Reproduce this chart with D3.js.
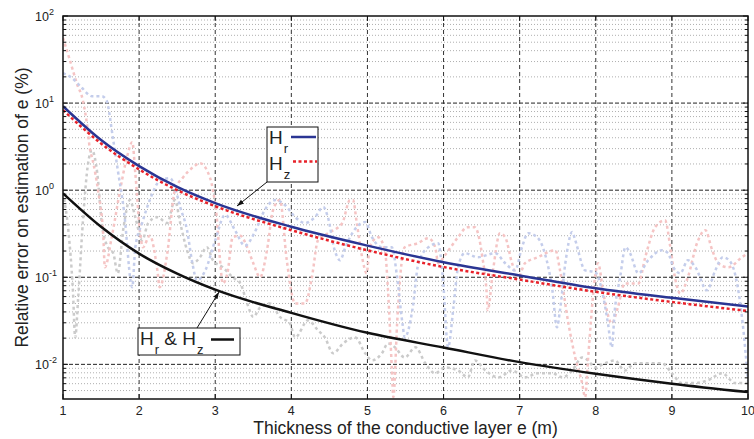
<!DOCTYPE html>
<html>
<head>
<meta charset="utf-8">
<script src="https://cdn.jsdelivr.net/npm/d3@7"></script>
<style>
  body { margin: 0; background: #fff; }
  svg { display: block; font-family: "Liberation Sans", Arial, Helvetica, sans-serif; }
</style>
</head>
<body>
<svg id="chart" width="754" height="439"></svg>
<script>
// smooth error curves
const thickness = [1, 1.5, 2, 2.5, 3, 4, 5, 6, 7, 8, 9, 10];
const errHr   = [9.2, 3.76, 1.89, 1.09, 0.71, 0.38, 0.231, 0.149, 0.105, 0.075, 0.058, 0.046];
const errHz   = [8.3, 3.44, 1.73, 1.0, 0.655, 0.347, 0.204, 0.131, 0.094, 0.068, 0.052, 0.041];
const errHrHz = [0.92, 0.38, 0.187, 0.11, 0.072, 0.039, 0.023, 0.0156, 0.0106, 0.0078, 0.006, 0.0048];

// faint noisy curves [thickness, error]
const noisyHr = [[1.00,22.1],[1.12,19.4],[1.25,14.9],[1.38,12.0],[1.51,12.0],[1.57,10.8],[1.66,3.76],[1.72,1.70],[1.80,0.59],[1.91,0.077],
  [1.95,0.221],[2.04,0.42],[2.14,0.77],[2.28,1.30],[2.41,1.37],[2.47,1.08],[2.54,0.64],[2.63,0.347],[2.70,0.145],[2.76,0.092],
  [2.87,0.120],[3.00,0.266],[3.13,0.52],[3.26,0.347],[3.39,0.23],[3.52,0.33],[3.65,0.59],[3.79,0.77],[3.92,0.67],[4.05,0.49],
  [4.18,0.42],[4.31,0.49],[4.42,0.64],[4.48,0.49],[4.57,0.204],[4.64,0.157],[4.71,0.221],[4.80,0.32],[4.97,0.43],[5.06,0.288],
  [5.19,0.221],[5.32,0.221],[5.39,0.100],[5.46,0.0296],[5.49,0.0204],[5.59,0.042],[5.67,0.145],[5.80,0.221],[5.93,0.246],[5.99,0.100],
  [6.06,0.0157],[6.13,0.045],[6.19,0.130],[6.28,0.189],[6.45,0.170],[6.68,0.189],[6.81,0.145],[6.94,0.120],[7.03,0.221],[7.11,0.32],
  [7.23,0.288],[7.33,0.189],[7.43,0.071],[7.49,0.0266],[7.53,0.042],[7.60,0.145],[7.69,0.33],[7.73,0.266],[7.86,0.120],[7.99,0.115],
  [8.08,0.071],[8.16,0.0296],[8.21,0.0157],[8.25,0.042],[8.32,0.100],[8.39,0.221],[8.45,0.189],[8.56,0.111],[8.69,0.157],[8.87,0.204],
  [8.95,0.189],[9.02,0.130],[9.11,0.111],[9.21,0.157],[9.31,0.130],[9.46,0.071],[9.57,0.120],[9.67,0.170],[9.75,0.157],[9.84,0.100],
  [9.93,0.0296],[10.0,0.0065]];

const noisyHz = [[1.00,55.9],[1.09,31.2],[1.18,17.0],[1.26,10.8],[1.32,5.3],[1.35,3.12],[1.39,2.21],[1.46,1.0],[1.53,0.288],[1.55,0.130],
  [1.64,0.288],[1.75,1.0],[1.84,2.39],[1.91,3.56],[1.95,1.57],[2.01,0.347],[2.05,0.221],[2.14,0.30],[2.24,0.120],[2.27,0.077],
  [2.37,0.189],[2.47,1.0],[2.58,1.41],[2.71,1.84],[2.80,2.04],[2.89,1.70],[2.97,1.0],[3.02,0.49],[3.06,0.170],[3.10,0.085],
  [3.16,0.111],[3.23,0.288],[3.33,0.30],[3.42,0.221],[3.50,0.145],[3.59,0.100],[3.68,0.204],[3.76,0.59],[3.85,0.77],[3.94,0.157],
  [4.05,0.050],[4.18,0.050],[4.27,0.100],[4.35,0.266],[4.48,0.32],[4.67,0.42],[4.77,0.77],[4.81,0.77],[4.86,0.42],[4.93,0.170],
  [4.99,0.111],[5.03,0.221],[5.14,0.288],[5.23,0.204],[5.27,0.071],[5.32,0.0092],[5.34,0.0042],[5.39,0.0296],[5.43,0.100],[5.49,0.221],
  [5.66,0.246],[5.80,0.281],[5.89,0.221],[5.93,0.145],[6.02,0.18],[6.19,0.288],[6.31,0.376],[6.41,0.376],[6.51,0.170],[6.57,0.059],
  [6.58,0.042],[6.65,0.120],[6.74,0.32],[6.81,0.288],[6.90,0.145],[6.98,0.100],[7.07,0.145],[7.24,0.170],[7.47,0.204],[7.53,0.120],
  [7.64,0.0296],[7.73,0.0120],[7.82,0.0061],[7.86,0.0042],[7.90,0.0120],[7.99,0.100],[8.03,0.145],[8.10,0.065],[8.21,0.0296],[8.29,0.045],
  [8.38,0.085],[8.56,0.085],[8.65,0.170],[8.78,0.376],[8.91,0.45],[8.98,0.221],[9.04,0.100],[9.11,0.065],[9.21,0.100],[9.33,0.246],
  [9.44,0.347],[9.53,0.204],[9.61,0.145],[9.74,0.130],[9.92,0.170],[10.0,0.189]];

const noisyHrHz = [[1.00,0.92],[1.07,0.347],[1.13,0.071],[1.16,0.0204],[1.20,0.059],[1.26,0.42],[1.33,2.04],[1.38,2.88],[1.45,1.57],[1.51,0.42],
  [1.59,0.221],[1.66,0.189],[1.72,0.111],[1.79,0.347],[1.88,0.77],[1.95,0.49],[2.04,0.266],[2.12,0.42],[2.24,0.49],[2.37,0.42],
  [2.47,0.77],[2.54,0.42],[2.63,0.204],[2.71,0.145],[2.80,0.170],[2.89,0.221],[2.97,0.157],[3.10,0.130],[3.23,0.100],[3.33,0.085],
  [3.42,0.050],[3.50,0.035],[3.59,0.045],[3.72,0.050],[3.85,0.035],[3.98,0.0296],[4.05,0.0204],[4.22,0.032],[4.35,0.0246],[4.44,0.0204],
  [4.55,0.0134],[4.68,0.0174],[4.84,0.0204],[4.97,0.0134],[5.06,0.0111],[5.19,0.0134],[5.27,0.0174],[5.36,0.0157],[5.49,0.0120],[5.63,0.0157],
  [5.76,0.0103],[5.89,0.0079],[6.02,0.0092],[6.19,0.0085],[6.32,0.0071],[6.41,0.0111],[6.55,0.0085],[6.72,0.0071],[6.90,0.0085],[7.07,0.0071],
  [7.24,0.0079],[7.43,0.0079],[7.56,0.0071],[7.69,0.0085],[7.82,0.0120],[7.90,0.0111],[7.99,0.0092],[8.12,0.0103],[8.25,0.0111],[8.38,0.0085],
  [8.52,0.0103],[8.69,0.0103],[8.87,0.0103],[9.00,0.0079],[9.13,0.0061],[9.31,0.0061],[9.48,0.0066],[9.66,0.0079],[9.83,0.0061],[10.0,0.0061]];

const xTicks = [1, 2, 3, 4, 5, 6, 7, 8, 9, 10];
const yDecades = [-2, -1, 0, 1, 2];

const svg = d3.select("#chart");
const margin = { top: 16, right: 6, bottom: 40, left: 63 };
const W = 754, H = 439;

const x = d3.scaleLinear().domain([1, 10]).range([margin.left, W - margin.right]);
const y = d3.scaleLog().domain([0.004, 100]).range([H - margin.bottom, margin.top]);

const x0 = x.range()[0], x1 = x.range()[1];
const y0 = y.range()[0], y1 = y.range()[1];

svg.append("defs").append("clipPath").attr("id", "plotClip")
  .append("rect").attr("x", x0).attr("y", y1).attr("width", x1 - x0).attr("height", y0 - y1);

// minor grid (log)
const minorVals = [];
for (let d = -3; d <= 1; d++) {
  for (let k = 2; k <= 9; k++) {
    const v = k * Math.pow(10, d);
    if (v > 0.004 && v < 100) minorVals.push(v);
  }
}
const grid = svg.append("g");
grid.selectAll(".minor").data(minorVals).enter().append("line")
  .attr("x1", x0).attr("x2", x1)
  .attr("y1", d => y(d)).attr("y2", d => y(d))
  .attr("stroke", "#9a9a9a").attr("stroke-width", 0.8).attr("stroke-dasharray", "1,2");

grid.selectAll(".hmajor").data(yDecades.filter(d => d < 2)).enter().append("line")
  .attr("x1", x0).attr("x2", x1)
  .attr("y1", d => y(Math.pow(10, d))).attr("y2", d => y(Math.pow(10, d)))
  .attr("stroke", "#222").attr("stroke-width", 1).attr("stroke-dasharray", "4,2");

grid.selectAll(".vmajor").data(xTicks.slice(1, -1)).enter().append("line")
  .attr("x1", d => x(d)).attr("x2", d => x(d))
  .attr("y1", y1).attr("y2", y0)
  .attr("stroke", "#333").attr("stroke-width", 1).attr("stroke-dasharray", "4,3");

// curves
const line = d3.line().x(d => x(d[0])).y(d => y(d[1])).curve(d3.curveMonotoneX);
const plot = svg.append("g").attr("clip-path", "url(#plotClip)");

const noisy = [
  { data: noisyHrHz, color: "#cbcbcb" },
  { data: noisyHz, color: "#f5c4c4" },
  { data: noisyHr, color: "#c4cdeb" }
];
noisy.forEach(s => {
  plot.append("path").datum(s.data)
    .attr("fill", "none").attr("stroke", s.color)
    .attr("stroke-width", 2.5).attr("stroke-dasharray", "3,3")
    .attr("d", line);
});

const zip = vals => thickness.map((t, i) => [t, vals[i]]);
plot.append("path").datum(zip(errHrHz))
  .attr("fill", "none").attr("stroke", "#111").attr("stroke-width", 2.5).attr("d", line);
plot.append("path").datum(zip(errHr))
  .attr("fill", "none").attr("stroke", "#2a3593").attr("stroke-width", 2.5).attr("d", line);
plot.append("path").datum(zip(errHz))
  .attr("fill", "none").attr("stroke", "#e8222a").attr("stroke-width", 2.5)
  .attr("stroke-dasharray", "3,2.5").attr("d", line);

// ticks (inside)
const ticks = svg.append("g").attr("stroke", "#111").attr("stroke-width", 1);
xTicks.forEach(t => {
  ticks.append("line").attr("x1", x(t)).attr("x2", x(t)).attr("y1", y0).attr("y2", y0 - 5);
  ticks.append("line").attr("x1", x(t)).attr("x2", x(t)).attr("y1", y1).attr("y2", y1 + 5);
});
minorVals.forEach(v => {
  ticks.append("line").attr("x1", x0).attr("x2", x0 + 3).attr("y1", y(v)).attr("y2", y(v));
  ticks.append("line").attr("x1", x1).attr("x2", x1 - 3).attr("y1", y(v)).attr("y2", y(v));
});
yDecades.forEach(d => {
  const v = Math.pow(10, d);
  ticks.append("line").attr("x1", x0).attr("x2", x0 + 5).attr("y1", y(v)).attr("y2", y(v));
  ticks.append("line").attr("x1", x1).attr("x2", x1 - 5).attr("y1", y(v)).attr("y2", y(v));
});

// frame
svg.append("rect").attr("x", x0).attr("y", y1).attr("width", x1 - x0).attr("height", y0 - y1)
  .attr("fill", "none").attr("stroke", "#111").attr("stroke-width", 1.5);

// tick labels
svg.append("g").selectAll("text").data(xTicks).enter().append("text")
  .attr("x", d => x(d)).attr("y", 415)
  .attr("text-anchor", "middle").attr("font-size", 12.5).attr("fill", "#222")
  .text(d => d);

const yl = svg.append("g").selectAll("text").data(yDecades).enter().append("text")
  .attr("x", 35).attr("y", d => y(Math.pow(10, d)) + 5)
  .attr("font-size", 12.5).attr("fill", "#222");
yl.append("tspan").text("10");
yl.append("tspan").attr("dy", -6).attr("font-size", 9).text(d => d < 0 ? "-" + (-d) : d);

// axis titles
svg.append("text").attr("x", (x0 + x1) / 2).attr("y", 434)
  .attr("text-anchor", "middle").attr("font-size", 17.5).attr("fill", "#222")
  .text("Thickness of the conductive layer e (m)");
svg.append("text").attr("transform", "translate(28," + ((y0 + y1) / 2) + ") rotate(-90)")
  .attr("text-anchor", "middle").attr("font-size", 17.5).attr("fill", "#222")
  .text("Relative error on estimation of e (%)");

// arrow marker
svg.append("defs").append("marker").attr("id", "arrow")
  .attr("viewBox", "0 0 10 10").attr("refX", 10).attr("refY", 5)
  .attr("markerWidth", 7).attr("markerHeight", 7).attr("orient", "auto")
  .append("path").attr("d", "M0,1.5 L10,5 L0,8.5 Z").attr("fill", "#111");

// legend for Hr / Hz
const leg1 = svg.append("g");
leg1.append("line").attr("x1", 267).attr("y1", 182).attr("x2", 237).attr("y2", 206)
  .attr("stroke", "#111").attr("stroke-width", 1).attr("marker-end", "url(#arrow)");
leg1.append("rect").attr("x", 267).attr("y", 127).attr("width", 51).attr("height", 55)
  .attr("fill", "#fff").attr("stroke", "#111").attr("stroke-width", 1);
const t1 = leg1.append("text").attr("x", 269).attr("y", 144).attr("font-size", 19).attr("fill", "#222");
t1.append("tspan").text("H");
t1.append("tspan").attr("dx", 1).attr("dy", 9).attr("font-size", 13).text("r");
const t2 = leg1.append("text").attr("x", 269).attr("y", 170).attr("font-size", 19).attr("fill", "#222");
t2.append("tspan").text("H");
t2.append("tspan").attr("dx", 1).attr("dy", 9).attr("font-size", 13).text("z");
leg1.append("line").attr("x1", 291).attr("x2", 316).attr("y1", 137).attr("y2", 137)
  .attr("stroke", "#2a3593").attr("stroke-width", 2.5);
leg1.append("line").attr("x1", 293).attr("x2", 317).attr("y1", 161.5).attr("y2", 161.5)
  .attr("stroke", "#e8222a").attr("stroke-width", 2.5).attr("stroke-dasharray", "3,2.5");

// legend for Hr & Hz
const leg2 = svg.append("g");
leg2.append("line").attr("x1", 197).attr("y1", 328).attr("x2", 219).attr("y2", 292)
  .attr("stroke", "#111").attr("stroke-width", 1).attr("marker-end", "url(#arrow)");
leg2.append("rect").attr("x", 138).attr("y", 328).attr("width", 102).attr("height", 27)
  .attr("fill", "#fff").attr("stroke", "#111").attr("stroke-width", 1);
const t3 = leg2.append("text").attr("x", 140).attr("y", 345).attr("font-size", 19).attr("fill", "#222");
t3.append("tspan").text("H");
t3.append("tspan").attr("dx", 1).attr("dy", 9).attr("font-size", 13).text("r");
t3.append("tspan").attr("dy", -9).text(" & H");
t3.append("tspan").attr("dx", 1).attr("dy", 9).attr("font-size", 13).text("z");
leg2.append("line").attr("x1", 211).attr("x2", 234).attr("y1", 339.5).attr("y2", 339.5)
  .attr("stroke", "#111").attr("stroke-width", 2.5);
</script>
</body>
</html>
